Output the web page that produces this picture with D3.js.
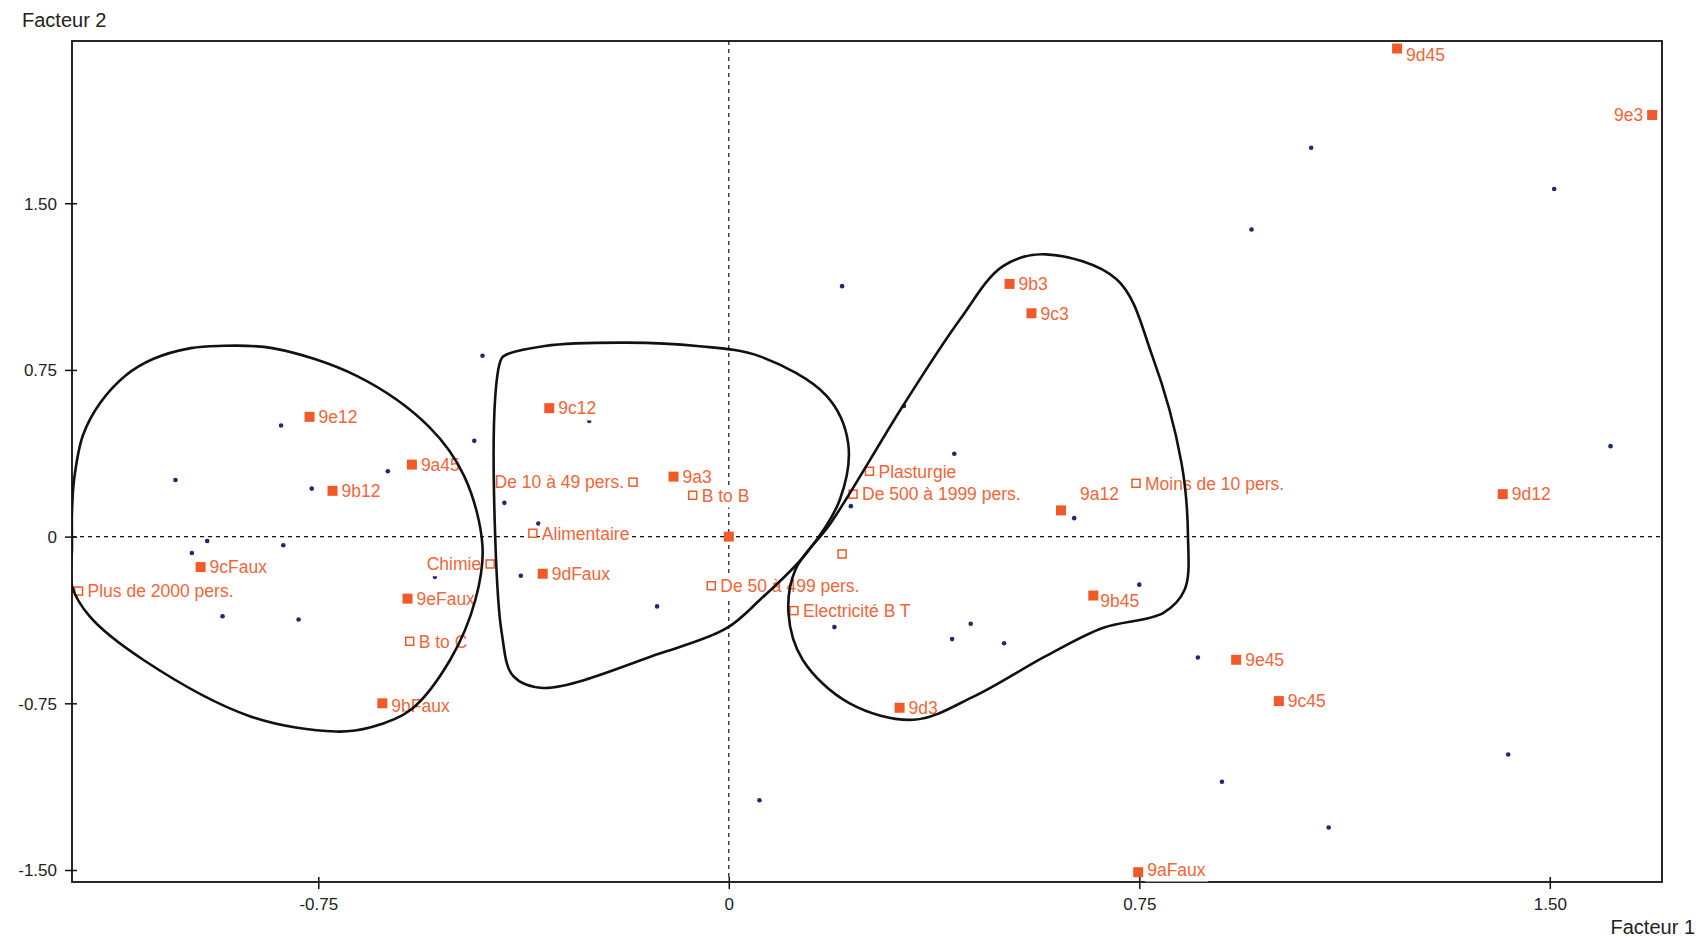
<!DOCTYPE html>
<html>
<head>
<meta charset="utf-8">
<script src="https://cdn.jsdelivr.net/npm/d3@7"></script>
<style>
  html, body { margin: 0; padding: 0; background: #fff; }
  svg { display: block; }
</style>
</head>
<body>
<svg id="chart" width="1708" height="939"></svg>
<script>
// ---------- DATA ----------
const xTicks = [-0.75, 0, 0.75, 1.50];
const yTicks = [-1.50, -0.75, 0, 0.75, 1.50];
const xTickLabels = ["-0.75", "0", "0.75", "1.50"];
const yTickLabels = ["-1.50", "-0.75", "0", "0.75", "1.50"];
const xTitle = "Facteur 1";
const yTitle = "Facteur 2";

// active categories (filled orange squares)
const activeLabels = ["9d45", "9e3", "9b3", "9c3", "9c12", "9e12", "9a45", "9b12", "9a3", "9a12", "9d12", "",
  "9cFaux", "9dFaux", "9eFaux", "9b45", "9e45", "9c45", "9bFaux", "9d3", "9aFaux"];
const activeX = [1.221, 1.687, 0.513, 0.553, -0.328, -0.766, -0.579, -0.724, -0.101, 0.607, 1.414, 0.0,
  -0.965, -0.340, -0.587, 0.666, 0.927, 1.005, -0.633, 0.312, 0.748];
const activeY = [2.196, 1.897, 1.137, 1.005, 0.578, 0.539, 0.324, 0.206, 0.270, 0.118, 0.191, 0.0,
  -0.137, -0.167, -0.279, -0.265, -0.554, -0.740, -0.750, -0.770, -1.510];

// supplementary categories (open orange squares)
const suppLabels = ["Plus de 2000 pers.", "B to C", "Chimie", "De 10 à 49 pers.", "Alimentaire", "B to B",
  "De 50 à 499 pers.", "Electricité B T", "", "Plasturgie", "De 500 à 1999 pers.", "Moins de 10 pers."];
const suppX = [-1.188, -0.583, -0.436, -0.175, -0.358, -0.066, -0.032, 0.119, 0.207, 0.257, 0.227, 0.744];
const suppY = [-0.245, -0.471, -0.123, 0.245, 0.015, 0.186, -0.221, -0.333, -0.078, 0.294, 0.191, 0.240];

// individuals (small blue dots)
const indivX = [1.064, 1.508, 0.955, 0.207, -0.450, 0.320, -0.255, -0.818, -0.465, 0.412, 1.611, -1.011,
  -0.762, -0.623, -0.410, -0.348, 0.223, 0.631, -0.953, -0.981, -0.814, -0.380, -0.537, 0.750,
  -0.131, -0.925, -0.786, 0.193, 0.442, 0.408, 0.503, 0.857, 1.424, 0.901, 0.056, 1.096];
const indivY = [1.750, 1.564, 1.382, 1.127, 0.814, 0.588, 0.520, 0.500, 0.431, 0.373, 0.407, 0.255,
  0.216, 0.294, 0.152, 0.059, 0.137, 0.083, -0.020, -0.074, -0.039, -0.176, -0.181, -0.216,
  -0.314, -0.358, -0.373, -0.407, -0.392, -0.461, -0.480, -0.544, -0.980, -1.103, -1.186, -1.309];

// hand-drawn group contours
const contourLeftX = [-1.200, -1.196, -1.180, -1.148, -1.102, -1.052, -0.983, -0.933, -0.834, -0.678,
  -0.548, -0.483, -0.450, -0.463, -0.509, -0.581, -0.654, -0.718, -0.874, -1.070, -1.168, -1.200, -1.200];
const contourLeftY = [0.113, 0.260, 0.456, 0.603, 0.725, 0.799, 0.848, 0.858, 0.848, 0.721,
  0.495, 0.270, -0.044, -0.284, -0.554, -0.779, -0.858, -0.877, -0.809, -0.554, -0.358, -0.221, -0.050];
const contourMidX = [-0.412, -0.336, -0.187, -0.058, 0.057, 0.179, 0.218, 0.203, 0.142, 0.057,
  -0.004, -0.125, -0.339, -0.394, -0.415, -0.427, -0.427, -0.418];
const contourMidY = [0.811, 0.858, 0.873, 0.858, 0.811, 0.632, 0.422, 0.167, -0.074, -0.284,
  -0.412, -0.525, -0.681, -0.627, -0.431, 0.015, 0.618, 0.784];
const contourRightX = [0.579, 0.709, 0.774, 0.827, 0.839, 0.833, 0.794, 0.683, 0.579, 0.448,
  0.338, 0.220, 0.135, 0.109, 0.122, 0.187, 0.318, 0.422, 0.501];
const contourRightY = [1.270, 1.157, 0.811, 0.333, 0.001, -0.238, -0.343, -0.411, -0.538, -0.719,
  -0.824, -0.749, -0.554, -0.343, -0.147, 0.064, 0.588, 0.976, 1.217];

// ---------- LAYOUT / STYLE ----------
const W = 1708, H = 939;
const plot = { left: 72, right: 1662, top: 41, bottom: 882 };
const orange = "#f05a28";
const orangeText = "#f2653a";
const navy = "#1d2b6b";
const fontFam = "'Liberation Sans', Arial, sans-serif";
// label placement tweaks (layout only)
const labelLeft = new Set(["9e3", "Chimie", "De 10 à 49 pers."]);
const labelShift = { "9a12": [10, -17], "9d45": [0, 6], "9b45": [-2, 5], "9aFaux": [0, -3], "9bFaux": [0, 2] };

const x = d3.scaleLinear().domain([-1.2, 1.705]).range([plot.left, plot.right]);
const y = d3.scaleLinear().domain([-1.554, 2.23]).range([plot.bottom, plot.top]);

const svg = d3.select("#chart");
svg.append("rect").attr("width", W).attr("height", H).attr("fill", "#fff");

svg.append("defs").append("clipPath").attr("id", "plotclip")
  .append("rect").attr("x", plot.left).attr("y", plot.top)
  .attr("width", plot.right - plot.left).attr("height", plot.bottom - plot.top);

// zero lines (dashed)
svg.append("line").attr("x1", x(0)).attr("x2", x(0)).attr("y1", plot.top).attr("y2", plot.bottom)
  .attr("stroke", "#111").attr("stroke-width", 1.2).attr("stroke-dasharray", "4,4");
svg.append("line").attr("x1", plot.left).attr("x2", plot.right).attr("y1", y(0)).attr("y2", y(0))
  .attr("stroke", "#111").attr("stroke-width", 1.2).attr("stroke-dasharray", "4,4");

// frame
svg.append("rect").attr("x", plot.left).attr("y", plot.top)
  .attr("width", plot.right - plot.left).attr("height", plot.bottom - plot.top)
  .attr("fill", "none").attr("stroke", "#111").attr("stroke-width", 1.8);

// axes
const yAxis = svg.append("g").attr("transform", `translate(${plot.left},0)`)
  .call(d3.axisLeft(y).tickValues(yTicks).tickSize(6)
    .tickFormat((d, i) => yTickLabels[i]));
yAxis.select(".domain").remove();
yAxis.selectAll(".tick line").attr("x1", 5).attr("x2", -7).attr("stroke", "#111").attr("stroke-width", 1.5);
yAxis.selectAll(".tick text").attr("x", -15).attr("dy", "0.35em")
  .attr("font-family", fontFam).attr("font-size", 17).attr("fill", "#222");

const xAxis = svg.append("g").attr("transform", `translate(0,${plot.bottom})`)
  .call(d3.axisBottom(x).tickValues(xTicks).tickSize(6)
    .tickFormat((d, i) => xTickLabels[i]));
xAxis.select(".domain").remove();
xAxis.selectAll(".tick line").attr("y1", -5).attr("y2", 7).attr("stroke", "#111").attr("stroke-width", 1.5);
xAxis.selectAll(".tick text").attr("y", 16).attr("dy", "0.71em")
  .attr("font-family", fontFam).attr("font-size", 17).attr("fill", "#222");

// axis titles
svg.append("text").attr("x", 22).attr("y", 27).text(yTitle)
  .attr("font-family", fontFam).attr("font-size", 20).attr("fill", "#222");
svg.append("text").attr("x", 1695).attr("y", 934).attr("text-anchor", "end").text(xTitle)
  .attr("font-family", fontFam).attr("font-size", 20).attr("fill", "#222");

// individuals
svg.append("g").selectAll("circle").data(indivX.map((v, i) => [v, indivY[i]])).join("circle")
  .attr("cx", d => x(d[0])).attr("cy", d => y(d[1])).attr("r", 2.3).attr("fill", navy);

// labels with white background
const allPts = activeLabels.map((l, i) => ({ label: l, x: activeX[i], y: activeY[i], filled: true }))
  .concat(suppLabels.map((l, i) => ({ label: l, x: suppX[i], y: suppY[i], filled: false })));

const labelG = svg.append("g");
allPts.filter(p => p.label).forEach(p => {
  const left = labelLeft.has(p.label);
  const sh = labelShift[p.label] || [0, 0];
  const g = labelG.append("g");
  const t = g.append("text")
    .attr("x", x(p.x) + (left ? -9 : 9) + sh[0])
    .attr("y", y(p.y) + sh[1])
    .attr("dy", "0.36em")
    .attr("text-anchor", left ? "end" : "start")
    .attr("font-family", fontFam).attr("font-size", 17.5).attr("fill", orangeText)
    .text(p.label);
  const bb = t.node().getBBox();
  g.insert("rect", "text").attr("x", bb.x - 2).attr("y", bb.y).attr("width", bb.width + 4)
    .attr("height", bb.height + 2).attr("fill", "#fff");
});

// markers
svg.append("g").selectAll("rect").data(allPts).join("rect")
  .attr("x", d => x(d.x) - (d.filled ? 5 : 4)).attr("y", d => y(d.y) - (d.filled ? 5 : 4))
  .attr("width", d => d.filled ? 10 : 8).attr("height", d => d.filled ? 10 : 8)
  .attr("fill", d => d.filled ? orange : "#fff")
  .attr("stroke", orange).attr("stroke-width", d => d.filled ? 0 : 1.5);

// contours
const contours = [
  contourLeftX.map((v, i) => [v, contourLeftY[i]]),
  contourMidX.map((v, i) => [v, contourMidY[i]]),
  contourRightX.map((v, i) => [v, contourRightY[i]])
];
const line = d3.line().x(d => x(d[0])).y(d => y(d[1])).curve(d3.curveCatmullRomClosed.alpha(0.5));
svg.append("g").attr("clip-path", "url(#plotclip)").selectAll("path").data(contours).join("path")
  .attr("d", line).attr("fill", "none").attr("stroke", "#111").attr("stroke-width", 2.6);
</script>
</body>
</html>
